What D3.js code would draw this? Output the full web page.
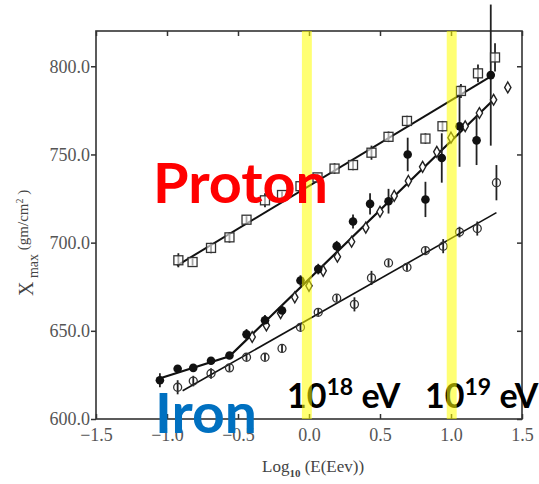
<!DOCTYPE html>
<html><head><meta charset="utf-8">
<script src="https://cdn.jsdelivr.net/npm/d3@7"></script>
<style>body{margin:0;background:#fff}svg{display:block}</style>
</head><body>
<svg id="c" width="539" height="484"></svg>
<script>
const xTicks = [-1.5, -1.0, -0.5, 0.0, 0.5, 1.0, 1.5];
const yTicks = [600, 650, 700, 750, 800];

const squareX = [-0.92,-0.82,-0.69,-0.56,-0.44,-0.31,-0.19,-0.06,0.06,0.18,0.31,0.44,0.56,0.69,0.82,0.94,1.07,1.19,1.31];
const squareY = [690,689,697,703,713,724,727,732,737,742,744,751,760,769,759,766,786,796,805];
const squareErr = [4,2,3,3,2,4,2,2,2,3,3,4,3,3,3,3,4,5,8];

const filledX = [-1.05,-0.925,-0.815,-0.69,-0.56,-0.44,-0.31,-0.19,-0.06,0.065,0.195,0.31,0.43,0.56,0.695,0.82,0.935,1.06,1.18,1.28];
const filledY = [622,628.5,629,633,636,648,656,661.5,678.5,685,698,712,722,723.5,750,724.5,748,766,758,795];
const filledErr = [4,2,2,2,2,3,3,3,3,3,3,4,6,7,9.5,10,14,23,14,40];

const diamondX = [-0.4,-0.3,-0.2,-0.1,0.0,0.1,0.2,0.3,0.4,0.5,0.6,0.7,0.8,0.9,1.0,1.1,1.2,1.3,1.4];
const diamondY = [646.5,653,660,669,675.5,684,692,700.5,708.5,717.5,726.5,735,743,751.5,759.5,766,773.5,781,788];

const circleX = [-0.925,-0.815,-0.69,-0.56,-0.44,-0.31,-0.19,-0.06,0.065,0.195,0.32,0.44,0.56,0.69,0.82,0.945,1.06,1.185,1.32];
const circleY = [618,621.5,625.8,629,635,635,640,652,660.5,668.5,665,680,688.5,686,695.5,698,706,708,734];
const circleErr = [4,3,3,2,2,2,2,2,2,2,4,4,2,2,2,4,3,4,10];

const fitUpperX = [-0.93, 1.275], fitUpperY = [687, 794];
const fitMiddleX = [-1.07, -0.56, 1.30], fitMiddleY = [622.5, 635.5, 781];
const fitLowerX = [-0.89, 1.32], fitLowerY = [616, 717];

const bandX = [-0.015, 1.005];
const bandHalfWidth = 0.035;

const svg = d3.select("#c");
const x = d3.scaleLinear().domain([-1.5, 1.5]).range([96, 522]);
const y = d3.scaleLinear().domain([600, 820]).range([419, 31]);
const fmt = d3.format(".1f");
const serif = "'Liberation Serif','Times New Roman',serif";

// axes
const gB = svg.append("g").attr("transform", "translate(0,419)")
  .call(d3.axisBottom(x).tickValues(xTicks).tickFormat(fmt).tickSizeInner(-5).tickSizeOuter(0).tickPadding(9));
const gL = svg.append("g").attr("transform", "translate(96,0)")
  .call(d3.axisLeft(y).tickValues(yTicks).tickFormat(fmt).tickSizeInner(5).tickSizeOuter(0).tickPadding(1));
const gT = svg.append("g").attr("transform", "translate(0,31)")
  .call(d3.axisTop(x).tickValues(xTicks).tickFormat("").tickSizeInner(-5).tickSizeOuter(0));
const gR = svg.append("g").attr("transform", "translate(522,0)")
  .call(d3.axisRight(y).tickValues(yTicks).tickFormat("").tickSizeInner(-5).tickSizeOuter(0));
[gB, gL, gT, gR].forEach(g => {
  g.select(".domain").remove();
  g.selectAll(".tick line").attr("stroke", "#333").attr("stroke-width", 1.5);
  g.selectAll("text").attr("font-family", serif).attr("font-size", 18).attr("fill", "#555");
});
svg.append("rect").attr("x", x(-1.5)).attr("y", y(820))
  .attr("width", x(1.5) - x(-1.5)).attr("height", y(600) - y(820))
  .attr("fill", "none").attr("stroke", "#333").attr("stroke-width", 1.6);

// axis titles
svg.append("text").attr("x", 262).attr("y", 472)
  .attr("font-family", serif).attr("font-size", 17).attr("fill", "#444")
  .call(t => {
    t.append("tspan").text("Log");
    t.append("tspan").attr("font-size", 11).attr("font-weight", "bold").attr("dy", 5).text("10");
    t.append("tspan").attr("dy", -5).text(" (E(Eev))");
  });
svg.append("text").attr("transform", "translate(33,296) rotate(-90)")
  .attr("font-family", serif).attr("font-size", 20).attr("fill", "#444")
  .call(t => {
    t.append("tspan").text("X");
    t.append("tspan").attr("font-size", 14).attr("dy", 5).text(" max");
    t.append("tspan").attr("font-size", 15).attr("dy", -10).text(" (gm/cm");
    t.append("tspan").attr("font-size", 10).attr("dy", -5).text("2");
    t.append("tspan").attr("font-size", 15).attr("dy", 5).text(" )");
  });

// fit lines
const line = d3.line().x(d => x(d[0])).y(d => y(d[1]));
[[fitUpperX, fitUpperY, 2], [fitMiddleX, fitMiddleY, 2.2], [fitLowerX, fitLowerY, 1.6]].forEach(([xs, ys, w]) => {
  svg.append("path").datum(xs.map((v, i) => [v, ys[i]])).attr("d", line)
    .attr("fill", "none").attr("stroke", "#111").attr("stroke-width", w);
});

// error bars
function errBars(xs, ys, es) {
  svg.append("g").selectAll("line").data(xs.map((v, i) => [v, ys[i], es[i]])).join("line")
    .attr("x1", d => x(d[0])).attr("x2", d => x(d[0]))
    .attr("y1", d => y(d[1] - d[2])).attr("y2", d => y(d[1] + d[2]))
    .attr("stroke", "#222").attr("stroke-width", 1.8);
}
errBars(squareX, squareY, squareErr);
errBars(filledX, filledY, filledErr);
errBars(circleX, circleY, circleErr);

// markers
svg.append("g").selectAll("rect").data(squareX.map((v, i) => [v, squareY[i]])).join("rect")
  .attr("x", d => x(d[0]) - 4.5).attr("y", d => y(d[1]) - 4.5).attr("width", 9).attr("height", 9)
  .attr("fill", "#fff").attr("fill-opacity", 0.6).attr("stroke", "#333").attr("stroke-width", 1.3);
svg.append("g").selectAll("path").data(diamondX.map((v, i) => [v, diamondY[i]])).join("path")
  .attr("d", d3.symbol().type(d3.symbolDiamond).size(34))
  .attr("transform", d => `translate(${x(d[0])},${y(d[1])})`)
  .attr("fill", "#fff").attr("stroke", "#222").attr("stroke-width", 1.4);
svg.append("g").selectAll("circle").data(circleX.map((v, i) => [v, circleY[i]])).join("circle")
  .attr("cx", d => x(d[0])).attr("cy", d => y(d[1])).attr("r", 4)
  .attr("fill", "none").attr("stroke", "#333").attr("stroke-width", 1.3);
svg.append("g").selectAll("circle").data(filledX.map((v, i) => [v, filledY[i]])).join("circle")
  .attr("cx", d => x(d[0])).attr("cy", d => y(d[1])).attr("r", 4.3)
  .attr("fill", "#111");

// energy labels
const sans = "Lato,'Open Sans',sans-serif";
[[0, "18", 287], [1, "19", 425]].forEach(([k, sup, px]) => {
  svg.append("text").attr("x", px).attr("y", 408)
    .attr("font-family", sans).attr("font-weight", "bold").attr("font-size", 34).attr("fill", "#000")
    .call(t => {
      t.append("tspan").text("10");
      t.append("tspan").attr("font-size", 23).attr("dy", -13).text(sup);
      t.append("tspan").attr("dy", 13).text(" eV");
    });
});

// yellow bands
svg.append("g").selectAll("rect").data(bandX).join("rect")
  .attr("x", d => x(d - bandHalfWidth)).attr("width", d => x(d + bandHalfWidth) - x(d - bandHalfWidth))
  .attr("y", y(820)).attr("height", y(600) - y(820))
  .attr("fill", "#ffff00").attr("opacity", 0.55);

// big labels
svg.append("text").attr("x", 153).attr("y", 203).text("Proton")
  .attr("font-family", sans).attr("font-weight", "bold").attr("font-size", 55).attr("fill", "#ff0000")
  .attr("textLength", 175).attr("lengthAdjust", "spacingAndGlyphs");
svg.append("text").attr("x", 155).attr("y", 433).text("Iron")
  .attr("font-family", sans).attr("font-weight", "bold").attr("font-size", 55).attr("fill", "#0070c0")
  .attr("textLength", 102).attr("lengthAdjust", "spacingAndGlyphs");
</script>
</body></html>
